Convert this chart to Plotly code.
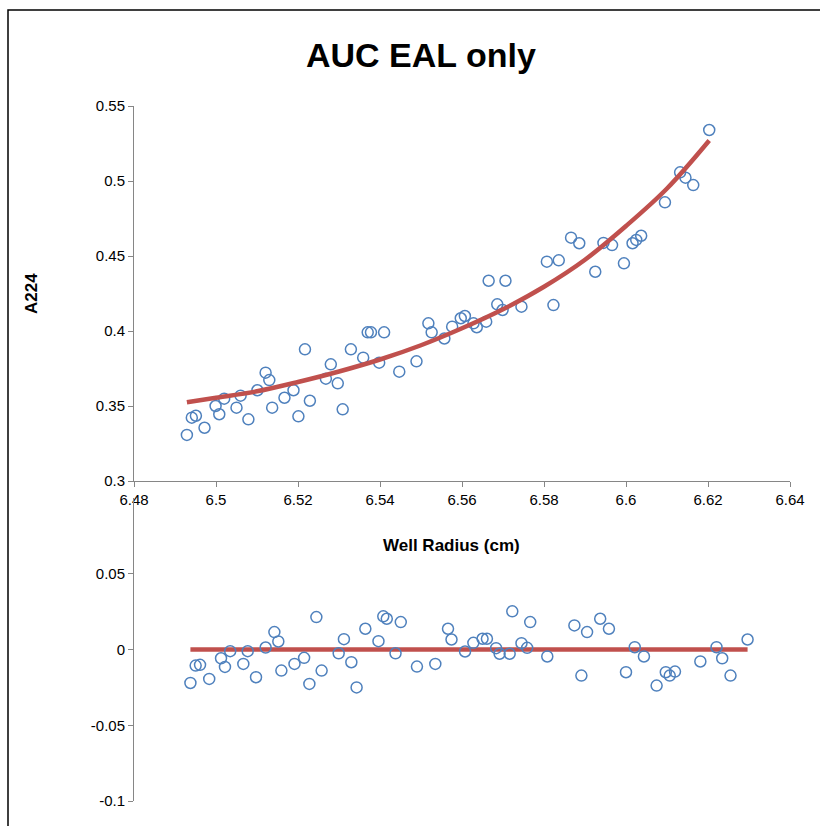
import plotly.graph_objects as go

# ---------------- data ----------------
radius = [6.4929, 6.4941, 6.4951, 6.4972, 6.4999, 6.5008, 6.5020, 6.5050, 6.5060, 6.5079,
          6.5101, 6.5121, 6.5130, 6.5137, 6.5167, 6.5189, 6.5201, 6.5217, 6.5229, 6.5268,
          6.5280, 6.5297, 6.5309, 6.5329, 6.5359, 6.5370, 6.5378, 6.5398, 6.5410, 6.5447,
          6.5489, 6.5518, 6.5526, 6.5557, 6.5576, 6.5597, 6.5607, 6.5628, 6.5636, 6.5659,
          6.5665, 6.5686, 6.5699, 6.5706, 6.5745, 6.5807, 6.5823, 6.5836, 6.5866, 6.5886,
          6.5925, 6.5945, 6.5966, 6.5995, 6.6016, 6.6025, 6.6037, 6.6095, 6.6132, 6.6145,
          6.6164, 6.6203]
a224 = [0.3307, 0.3422, 0.3435, 0.3355, 0.3500, 0.3445, 0.3549, 0.3489, 0.3569, 0.3411,
        0.3605, 0.3722, 0.3673, 0.3489, 0.3555, 0.3605, 0.3431, 0.3878, 0.3535, 0.3682,
        0.3778, 0.3651, 0.3478, 0.3878, 0.3822, 0.3991, 0.3991, 0.3789, 0.3991, 0.3729,
        0.3798, 0.4051, 0.3991, 0.3950, 0.4029, 0.4085, 0.4100, 0.4051, 0.4025, 0.4062,
        0.4335, 0.4178, 0.4140, 0.4335, 0.4162, 0.4462, 0.4173, 0.4471, 0.4622, 0.4585,
        0.4395, 0.4587, 0.4573, 0.4451, 0.4585, 0.4607, 0.4635, 0.4858, 0.5058, 0.5022,
        0.4973, 0.5340]
residual = [-0.0221, -0.0106, -0.0101, -0.0194, -0.0058, -0.0115, -0.0011, -0.0095, -0.0011, -0.0183,
            0.0013, 0.0115, 0.0053, -0.0139, -0.0095, -0.0055, -0.0227, 0.0214, -0.0139, -0.0025,
            0.0068, -0.0084, -0.0250, 0.0137, 0.0055, 0.0219, 0.0203, -0.0025, 0.0181, -0.0113,
            -0.0095, 0.0137, 0.0066, -0.0013, 0.0044, 0.0071, 0.0071, 0.0009, -0.0028, -0.0028,
            0.0252, 0.0042, 0.0011, 0.0181, -0.0046, 0.0159, -0.0172, 0.0115, 0.0203, 0.0137,
            -0.0150, 0.0015, -0.0046, -0.0238, -0.0150, -0.0172, -0.0146, -0.0079, 0.0015, -0.0058,
            -0.0172, 0.0066]

fit_x = [6.4929, 6.50, 6.51, 6.52, 6.53, 6.54, 6.55, 6.56, 6.57, 6.58, 6.59, 6.60, 6.61, 6.6203]
fit_y = [0.3525, 0.3555, 0.3598, 0.3660, 0.3730, 0.3810, 0.3905, 0.4018, 0.4145, 0.4295,
         0.4475, 0.4700, 0.4950, 0.5270]
zero_x = [6.4929, 6.6203]
zero_y = [0.0, 0.0]

top_yticks = [0.3, 0.35, 0.4, 0.45, 0.5, 0.55]
top_xticks = [6.48, 6.5, 6.52, 6.54, 6.56, 6.58, 6.6, 6.62, 6.64]
bot_yticks = [-0.1, -0.05, 0, 0.05]
bot_ytext = ["-0.1", "-0.05", "0", "0.05"]

# ---------------- styling ----------------
BLUE = "#4F81BD"
RED = "#C0504D"
AX = "#868686"
FONT = "Liberation Sans Narrow, Liberation Sans, Arial, sans-serif"

W, H = 820, 826
L, R, T, B = 134, 30, 106, 25
PW, PH = W - L - R, H - T - B


def px_x(p):
    return (p - L) / PW


def px_y(p):
    return (H - B - p) / PH


fig = go.Figure()

marker = dict(symbol="circle-open", size=11, color=BLUE, line=dict(color=BLUE, width=1.5))

fig.add_trace(go.Scatter(x=radius, y=a224, mode="markers", marker=marker,
                         xaxis="x", yaxis="y", showlegend=False))
fig.add_trace(go.Scatter(x=fit_x, y=fit_y, mode="lines", line=dict(color=RED, width=4.5, shape="spline"),
                         xaxis="x", yaxis="y", showlegend=False))
fig.add_trace(go.Scatter(x=zero_x, y=zero_y, mode="lines", line=dict(color=RED, width=4.5),
                         xaxis="x2", yaxis="y2", showlegend=False))
fig.add_trace(go.Scatter(x=radius, y=residual, mode="markers", marker=marker,
                         xaxis="x2", yaxis="y2", showlegend=False))

axis_common = dict(showgrid=False, zeroline=False, showline=True, linecolor=AX, linewidth=1,
                   ticks="outside", ticklen=5, tickcolor=AX, tickwidth=1,
                   tickfont=dict(family=FONT, size=15, color="#000000"))

fig.update_layout(
    width=W, height=H,
    margin=dict(l=L, r=R, t=T, b=B),
    paper_bgcolor="white", plot_bgcolor="rgba(0,0,0,0)",
    xaxis=dict(domain=[0, 1], range=[6.48, 6.64], tickvals=top_xticks, anchor="y", **axis_common),
    yaxis=dict(domain=[px_y(481), px_y(106)], range=[0.3, 0.55], tickvals=top_yticks,
               anchor="x", **axis_common),
    xaxis2=dict(domain=[0, 1], range=[6.48, 6.63], anchor="y2", visible=False),
    yaxis2=dict(domain=[0, px_y(498)], range=[-0.1, 0.1], tickvals=bot_yticks, ticktext=bot_ytext,
                anchor="x2", **axis_common),
    font=dict(family=FONT, color="#000000"),
)

fig.add_annotation(text="<b>AUC EAL only</b>", xref="paper", yref="paper",
                   x=px_x(421), y=px_y(55), xanchor="center", yanchor="middle",
                   showarrow=False, font=dict(family=FONT, size=34, color="#000000"))
fig.add_annotation(text="<b>A224</b>", xref="paper", yref="paper", textangle=-90,
                   x=px_x(31), y=px_y(294), xanchor="center", yanchor="middle",
                   showarrow=False, font=dict(family=FONT, size=17, color="#000000"))
fig.add_annotation(text="<b>Well Radius (cm)</b>", xref="paper", yref="paper",
                   x=px_x(451), y=px_y(545), xanchor="center", yanchor="middle",
                   showarrow=False, font=dict(family=FONT, size=17, color="#000000"))

# outer chart frame (cropped at right and bottom in the reference)
fig.add_shape(type="rect", xref="paper", yref="paper",
              x0=px_x(8), x1=px_x(840), y0=px_y(850), y1=px_y(10),
              line=dict(color="#000000", width=1.5), fillcolor="rgba(0,0,0,0)", layer="below")

fig.write_html("out.html")
